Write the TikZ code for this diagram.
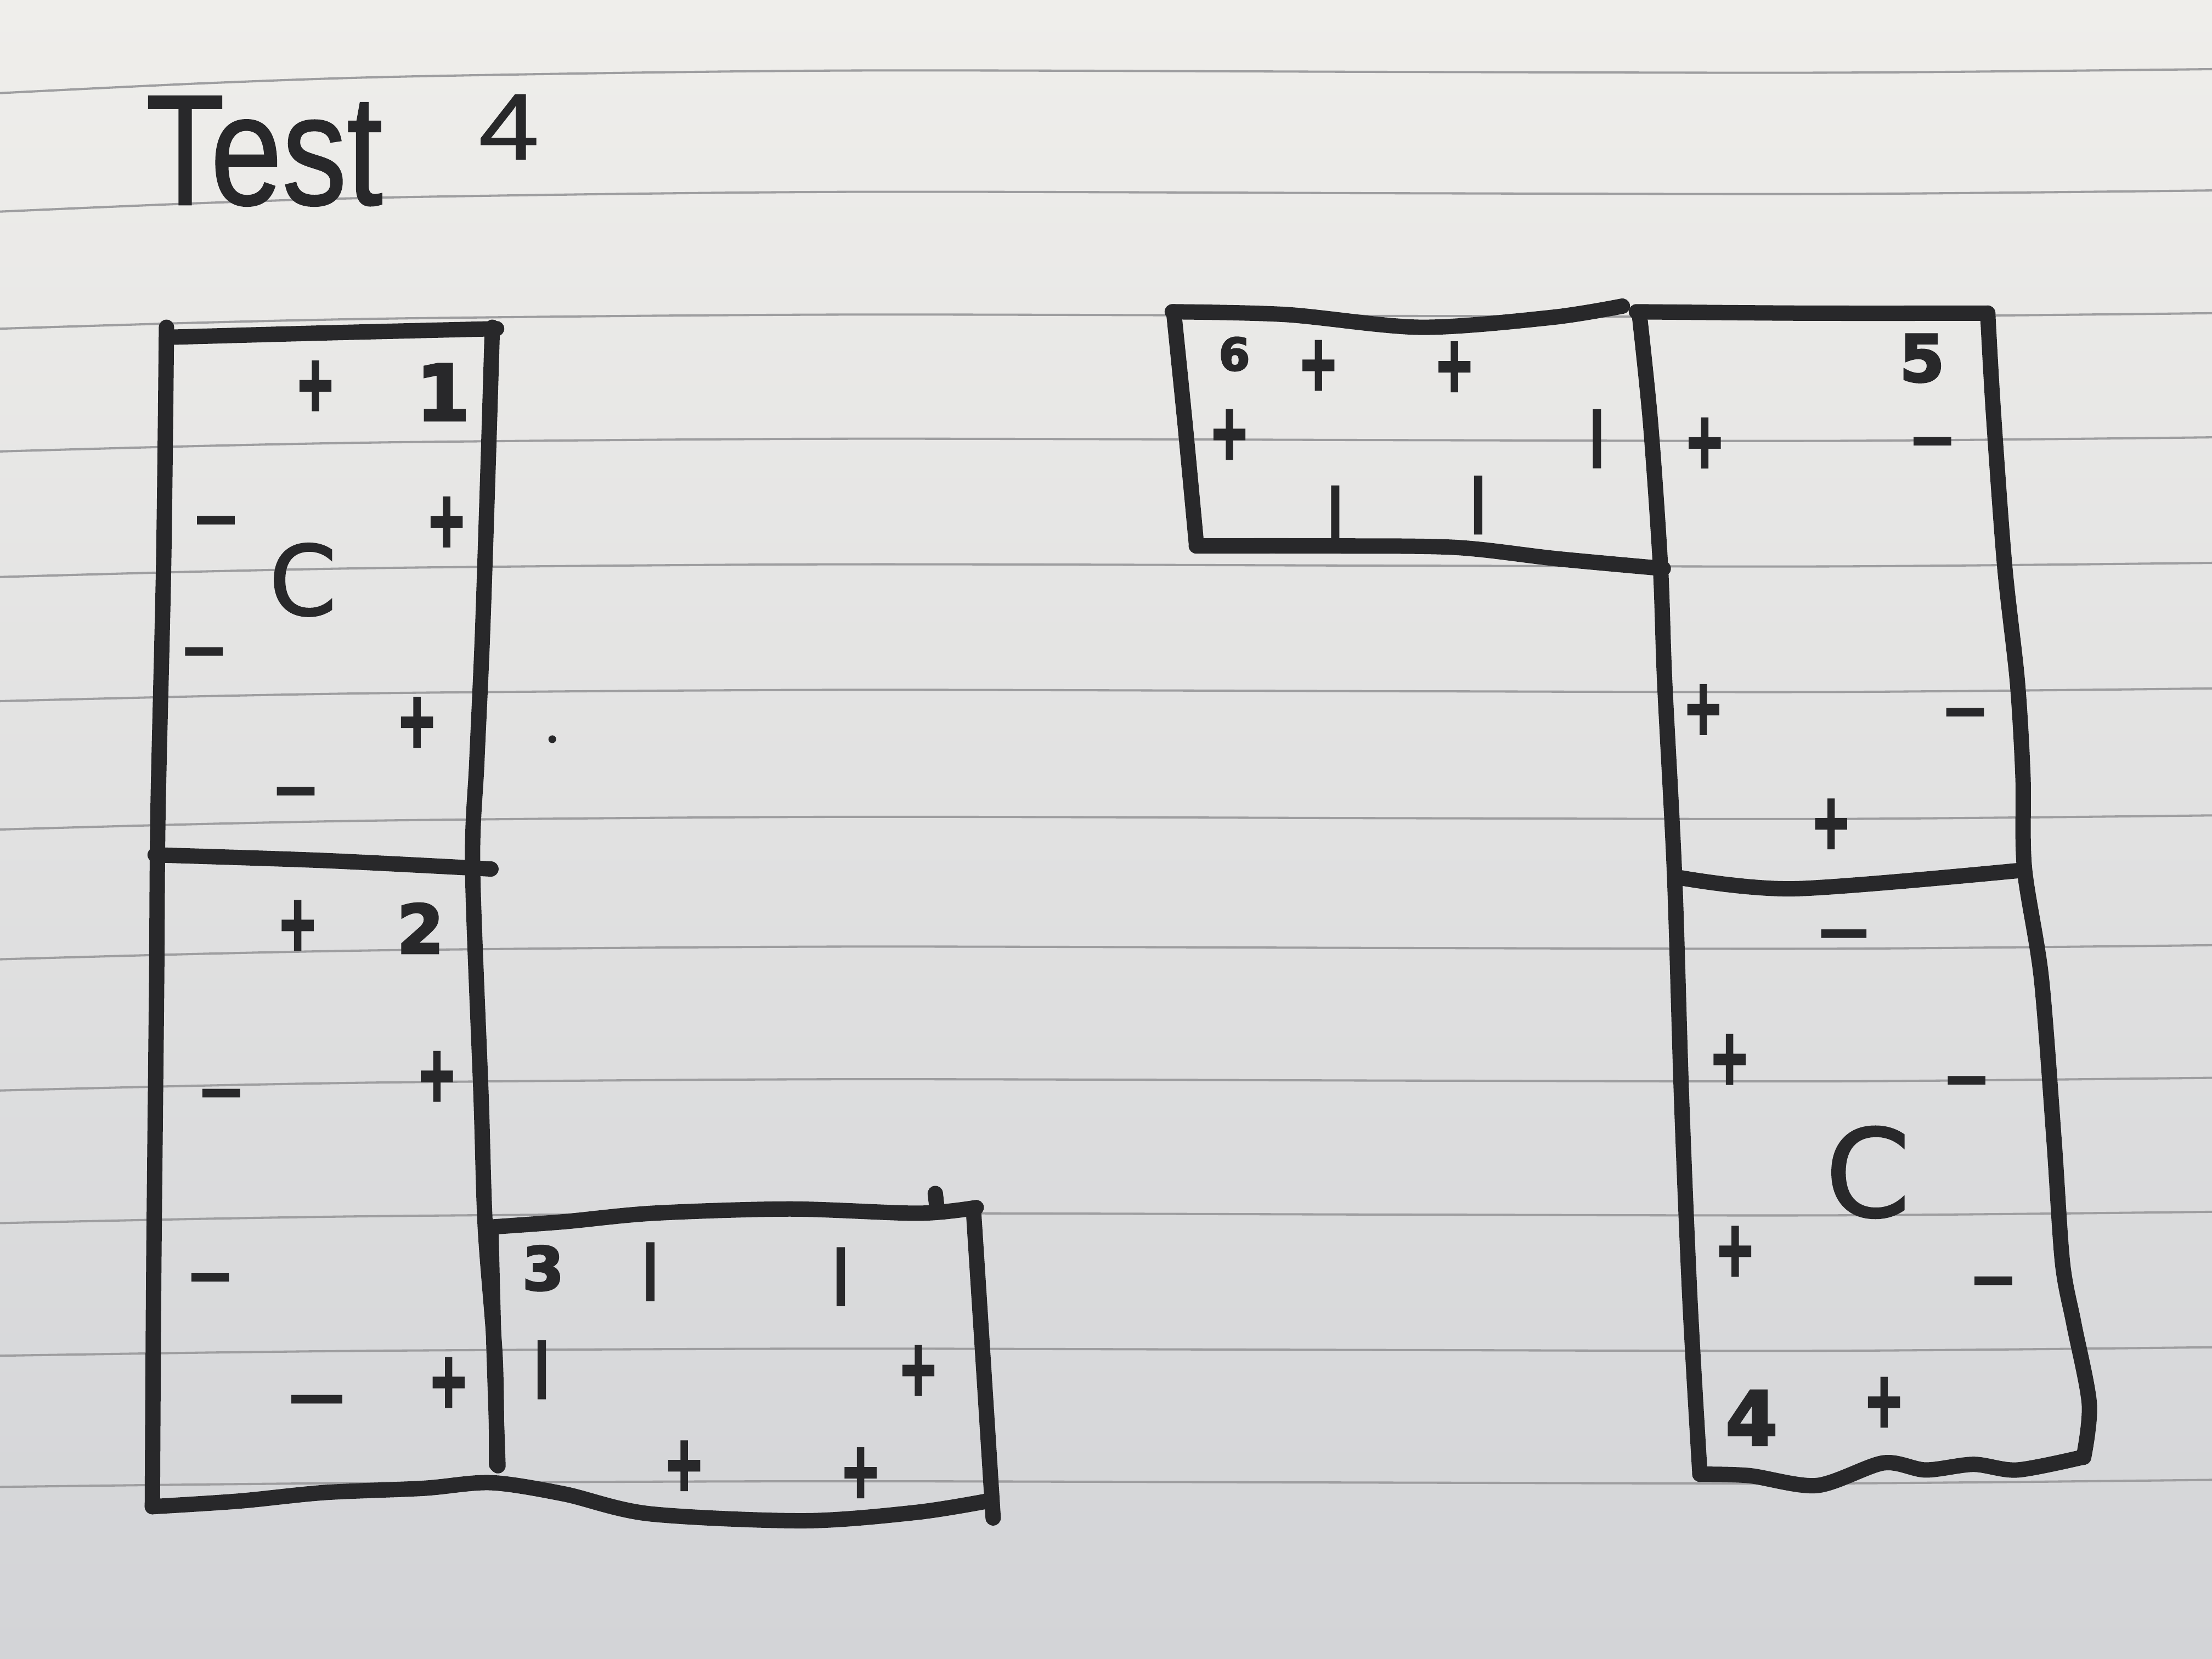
\documentclass[tikz,border=0pt]{standalone}
\usepackage{fontspec}
\usepackage{graphicx}
\newfontfamily\mkfont{DejaVu Sans}[FakeBold=3.5]
\newfontfamily\cfont{DejaVu Sans}[FakeBold=1.5]
\newfontfamily\ttlfont{Liberation Sans}[FakeBold=1]
\definecolor{paperT}{RGB}{239,238,235}
\definecolor{paperB}{RGB}{211,212,215}
\definecolor{inkc}{RGB}{40,40,42}
\definecolor{rulec}{RGB}{158,158,160}
\newcommand{\hplus}{\scalebox{0.85}[1.35]{+}}
\newcommand{\hminus}{−}
\newcommand{\hstroke}{|}
\tikzset{
  ink/.style={draw=inkc, line width=6.2pt, line cap=round, line join=round},
  rule/.style={draw=rulec, line width=0.9pt},
  mk/.style={text=inkc, inner sep=0pt, font=\mkfont\bfseries\fontsize{23}{23}\selectfont},
  dig/.style={text=inkc, inner sep=0pt, font=\mkfont\bfseries\fontsize{#1}{#1}\selectfont},
  bigc/.style={text=inkc, inner sep=0pt, font=\cfont\fontsize{#1}{#1}\selectfont},
  ttl/.style={text=inkc, inner sep=0pt, font=\ttlfont\fontsize{#1}{#1}\selectfont},
}
\begin{document}
\begin{tikzpicture}[x=0.02cm,y=-0.02cm]
\useasboundingbox (0,0) rectangle (1568,1176);
\shade[top color=paperT, bottom color=paperB] (0,0) rectangle (1568,1176);
% ruled lines of the notebook page
\foreach \b/\e in {50/16,136/14,223/10,311/9,400/9,489/8,579/9,671/9,765/8,860/7,956/5,1050/4}{
  \draw[rule] plot[smooth] coordinates {({0},{\b+\e}) ({150},{\b+0.55*\e}) ({300},{\b+0.25*\e}) ({600},{\b}) ({1000},{\b+1}) ({1300},{\b+1.5}) ({1568},{\b-1})};
}
% title
\node[ttl=63.5, anchor=base west] (title) at (103,145) {\scalebox{0.82}[1]{Test}};
\node[ttl=38, anchor=base west] (title4) at (339,113) {\scalebox{1.15}[1]{4}};

% ---- left shape: boxes 1, 2, 3 ----
\draw[ink] plot[smooth] coordinates {(118,232) (116,400) (112,575) (111,700) (109,900) (108,1068)};
\draw[ink] plot[smooth] coordinates {(122,239) (230,236) (352,233)};
\draw[ink] plot[smooth] coordinates {(349,232) (346,330) (342,450) (338,540) (335,615) (341,777) (344,870) (351,963) (352,1038)};
\draw[ink] plot[smooth] coordinates {(110,606) (230,610) (348,616)};
\draw[ink] plot[smooth] coordinates {(108,1068) (170,1064) (230,1058) (300,1055) (348,1051) (400,1059) (460,1073) (570,1078) (650,1072) (700,1064)};
\draw[ink] plot[smooth] coordinates {(345,870) (400,866) (463,860) (560,857) (651,860) (692,856)};
\draw[ink] (663,846) -- (664,855);
\draw[ink] plot[smooth] coordinates {(348,873) (350,950) (353,1039)};
\draw[ink] plot[smooth] coordinates {(690,857) (696,950) (704,1076)};

% ---- right shape: boxes 6, 5, 4 ----
\draw[ink] plot[smooth] coordinates {(831,221) (912,223) (1007,232) (1100,225) (1150,217)};
\draw[ink] plot[smooth] coordinates {(832,221) (840,300) (848,385)};
\draw[ink] plot[smooth] coordinates {(848,387) (936,387) (1031,388) (1103,396) (1179,403)};
\draw[ink] plot[smooth] coordinates {(1160,221) (1280,222) (1409,222)};
\draw[ink] plot[smooth] coordinates {(1162,222) (1170,300) (1177,401) (1180,483) (1187,620) (1192,779) (1198,923) (1205,1045)};
\draw[ink] plot[smooth] coordinates {(1409,222) (1413,292) (1421,401) (1430,483) (1434,551) (1435,615) (1447,693) (1456,808) (1462,895) (1470,938) (1481,995) (1477,1033)};
\draw[ink] plot[smooth] coordinates {(1190,622) (1272,630) (1432,617)};
\draw[ink] plot[smooth] coordinates {(1205,1045) (1240,1046) (1288,1053) (1335,1037) (1365,1042) (1399,1038) (1430,1042) (1476,1033)};

% stray dot
\node[circle, fill=inkc, inner sep=0pt, minimum size=0.11cm] (dot) at (391.5,524) {};

% ---- box 1 marks ----
\node[mk] (b1p1) at (223.6,273.5) {\hplus};
\node[dig=31] (b1n) at (314,278) {1};
\node[mk] (b1m1) at (153,374) {\hminus};
\node[mk] (b1p2) at (316.6,370) {\hplus};
\node[bigc=39] (b1c) at (214.7,411) {C};
\node[mk] (b1m2) at (144.6,467) {\hminus};
\node[mk] (b1p3) at (295.6,512) {\hplus};
\node[mk] (b1m3) at (209.6,566) {\hminus};
% ---- box 2 marks ----
\node[mk] (b2p1) at (211,656) {\hplus};
\node[dig=27] (b2n) at (298,658) {2};
\node[mk] (b2p2) at (309.7,763) {\hplus};
\node[mk] (b2m1) at (156.8,780) {\hminus};
\node[mk] (b2m2) at (149,910.5) {\hminus};
\node[mk] (b2p3) at (318,980) {\hplus};
\node[mk] (b2m3) at (224.6,997) {\scalebox{1.35}[1]{\hminus}};
% ---- box 3 marks ----
\node[dig=24] (b3n) at (385,899) {3};
\node[mk] (b3s1) at (461,901.5) {\hstroke};
\node[mk] (b3s2) at (596,905) {\hstroke};
\node[mk] (b3s3) at (384,971) {\hstroke};
\node[mk] (b3p1) at (651,971.5) {\hplus};
\node[mk] (b3p2) at (485,1039) {\hplus};
\node[mk] (b3p3) at (610,1044) {\hplus};
% ---- box 6 marks ----
\node[dig=18] (b6n) at (875,251) {6};
\node[mk] (b6p1) at (934.6,259) {\hplus};
\node[mk] (b6p2) at (1031,260) {\hplus};
\node[mk] (b6p3) at (871.5,308) {\hplus};
\node[mk] (b6s1) at (1132,311) {\hstroke};
\node[mk] (b6s2) at (946.5,365) {\hstroke};
\node[mk] (b6s3) at (1047.8,358) {\hstroke};
% ---- box 5 marks ----
\node[dig=26] (b5n) at (1362.4,254) {5};
\node[mk] (b5p1) at (1208.4,314) {\hplus};
\node[mk] (b5m1) at (1369.8,318) {\hminus};
\node[mk] (b5p2) at (1207.4,503) {\hplus};
\node[mk] (b5m2) at (1393,510) {\hminus};
\node[mk] (b5p3) at (1298,584) {\hplus};
% ---- box 4 marks ----
\node[mk] (b4m1) at (1307,667) {\scalebox{1.2}[1]{\hminus}};
\node[mk] (b4p1) at (1226,751) {\hplus};
\node[mk] (b4m2) at (1394,771) {\hminus};
\node[bigc=49] (b4c) at (1324,831) {C};
\node[mk] (b4p2) at (1230,887) {\hplus};
\node[mk] (b4m3) at (1413,913) {\hminus};
\node[dig=30] (b4n) at (1241.6,1005) {4};
\node[mk] (b4p3) at (1335.5,994) {\hplus};
\end{tikzpicture}
\end{document}
